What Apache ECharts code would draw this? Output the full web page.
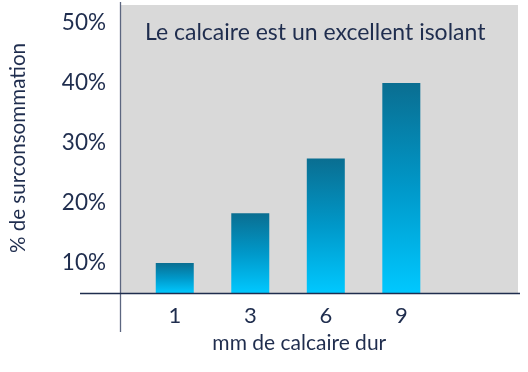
<!DOCTYPE html>
<html>
<head>
<meta charset="utf-8">
<script src="https://cdn.jsdelivr.net/npm/echarts@6/dist/echarts.min.js"></script>
<style>html,body{margin:0;padding:0;background:#fff;}#c{width:528px;height:372px;}</style>
</head>
<body>
<div id="c"></div>
<script>
const categories = ["1", "3", "6", "9", ""];
const values = [10, 18.3, 27.4, 40];
const yTicks = [10, 20, 30, 40, 50];
const titleText = "Le calcaire est un excellent isolant";
const xName = "mm de calcaire dur";
const yName = "% de surconsommation";

const FONT = "Lato";
const TXT = "#1F2D4E";

const chart = echarts.init(document.getElementById('c'));
chart.setOption({
  animation: false,
  backgroundColor: '#ffffff',
  title: {
    text: titleText, left: 140, top: 16,
    textStyle: { fontFamily: FONT, fontSize: 23, fontWeight: 'normal', color: TXT }
  },
  graphic: [
    { type: 'rect', z: -10, shape: { x: 120, y: 5, width: 398, height: 288 }, style: { fill: '#D9D9D9' } },
    { type: 'line', z: 10, shape: { x1: 120.5, y1: 2, x2: 120.5, y2: 332 }, style: { stroke: '#5C6680', lineWidth: 1.3 } },
    { type: 'line', z: 10, shape: { x1: 80, y1: 293.5, x2: 520, y2: 293.5 }, style: { stroke: '#1F2D4E', lineWidth: 1.3 } }
  ],
  grid: { left: 135.6, top: 5, width: 379, height: 288, containLabel: false },
  xAxis: {
    type: 'category', data: categories,
    axisLine: { show: false }, axisTick: { show: false },
    axisLabel: { fontFamily: FONT, fontSize: 22, color: TXT, margin: 12 },
    name: xName, nameLocation: 'middle', nameGap: 40,
    nameTextStyle: { fontFamily: FONT, fontSize: 21, color: TXT, padding: [0, 53, 0, 0] }
  },
  yAxis: {
    type: 'value', min: 5, max: 53,
    splitLine: { show: false }, axisLine: { show: false }, axisTick: { show: false },
    axisLabel: { customValues: yTicks, formatter: '{value}%', fontFamily: FONT, fontSize: 22.5, color: TXT, margin: 31 },
    name: yName, nameLocation: 'middle', nameRotate: 90, nameGap: 108,
    nameTextStyle: { fontFamily: FONT, fontSize: 20.6, color: TXT, padding: [0, 0, 0, 2] }
  },
  series: [{
    type: 'bar', data: values, barWidth: 38, clip: true,
    itemStyle: {
      color: new echarts.graphic.LinearGradient(0, 0, 0, 1, [
        { offset: 0, color: '#0A6E91' },
        { offset: 0.5, color: '#0098C9' },
        { offset: 1, color: '#00C8FF' }
      ])
    }
  }]
});
</script>
</body>
</html>
